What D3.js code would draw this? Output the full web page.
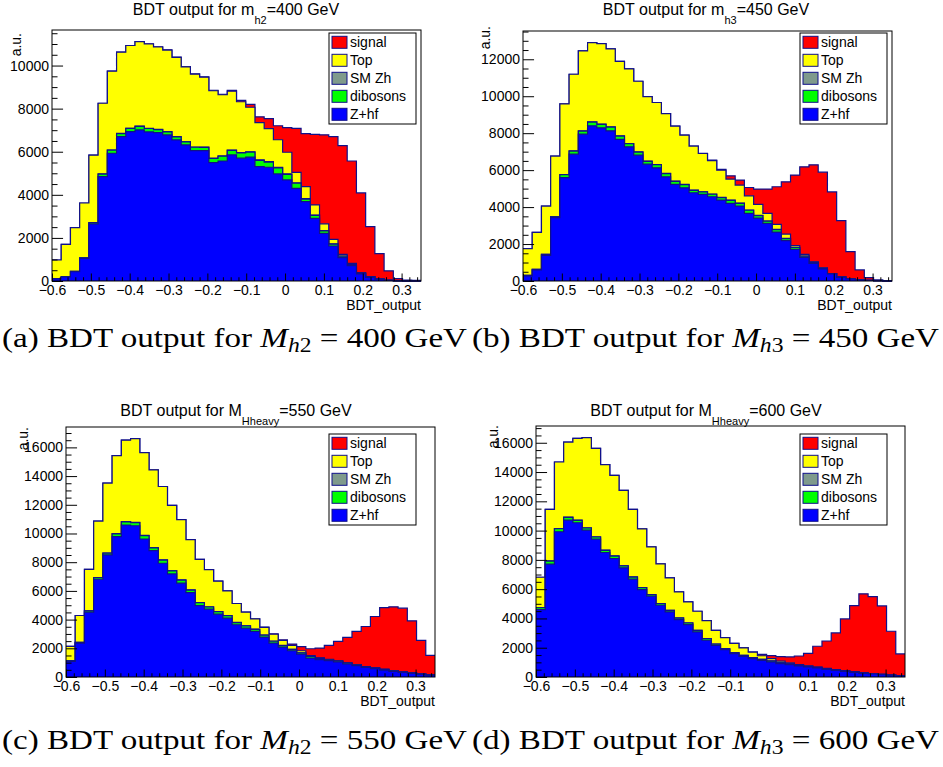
<!DOCTYPE html>
<html><head><meta charset="utf-8">
<script src="https://cdn.jsdelivr.net/npm/d3@7"></script>
<style>
body{margin:0;background:#fff;}
svg{display:block;font-family:"Liberation Sans",Arial,sans-serif;}
</style></head><body>
<svg id="chart" width="943" height="767"></svg>
<script>
// ---------- data ----------
const xRange = [-0.6, 0.35];
const nBins = 40;
const seriesNames = ["signal", "Top", "SM Zh", "dibosons", "Z+hf"];
const seriesColors = ["#ff0000", "#ffff00", "#7f9a8c", "#00ff00", "#0000ff"];
const xMajorTicks = [-0.6, -0.5, -0.4, -0.3, -0.2, -0.1, 0, 0.1, 0.2, 0.3];
const yAxisMax = [11650, 13530, 17420, 17145];

// (a) m_h2 = 400 GeV
const zhfA  = [100,185,430,1050,2650,4845,5930,6700,6935,7010,6920,6890,6780,6550,6315,6050,6050,5495,5570,5850,5700,5745,5310,5280,4970,4690,4300,3685,2910,2215,1625,1085,710,325,170,80,30,10,5,3];
const dibA  = [9,13,18,27,55,117,140,140,145,168,158,138,138,138,143,158,156,190,220,214,242,237,290,240,278,258,238,115,132,110,83,65,57,25,17,8,4,1,1,1];
const smzhA = [1,2,2,3,5,8,10,10,10,12,12,12,12,12,12,12,14,15,15,16,18,18,20,20,22,22,22,20,18,15,12,10,8,5,3,2,1,1,0,0];
const topA  = [865,1500,2030,2540,3130,3280,3660,3770,3840,3920,3910,3820,3790,3680,3470,3380,3240,3130,2840,2730,2360,2065,1730,1530,1285,1005,480,560,470,315,215,80,45,35,10,5,3,2,1,1];
const sigA  = [0,0,0,0,0,0,0,0,0,5,10,10,10,10,10,10,10,20,20,40,60,135,270,470,650,1145,2040,2460,3280,4130,4765,5045,4750,3700,2320,1175,435,100,30,20];

// (b) m_h3 = 450 GeV
const zhfB  = [270,595,1390,3425,5590,6865,7945,8400,8290,8125,7660,7260,6810,6325,6125,5640,5225,5045,4775,4685,4560,4380,4200,4055,3660,3405,3115,2650,2180,1710,1280,955,650,380,200,108,55,35,18,10];
const dibB  = [33,33,47,51,165,168,168,201,187,206,182,168,168,154,168,168,168,168,135,135,135,135,168,149,168,135,121,135,116,102,65,51,32,14,14,7,5,3,2,1];
const smzhB = [2,2,3,4,10,12,12,14,13,14,13,12,12,11,12,12,12,12,10,10,10,10,12,11,12,10,9,10,9,8,5,4,3,1,1,1,0,0,0,0];
const topB  = [1445,2000,2615,3280,3825,4145,4325,4285,4360,4215,4035,4040,3820,3490,3355,3240,2975,2665,2380,2070,1815,1475,1135,975,770,595,415,270,235,90,90,30,30,10,5,2,1,1,0,0];
const sigB  = [0,0,0,0,0,0,0,0,0,0,0,0,0,0,0,0,0,0,0,5,20,40,175,270,450,830,1315,2035,2830,3820,4740,5250,5175,4415,3045,1475,540,144,37,17];

// (c) M_Hheavy = 550 GeV
const zhfC  = [1090,2365,4520,6810,8505,9780,10590,10540,9615,8805,7925,7185,6535,5885,4980,4725,4380,4100,3640,3405,3175,2780,2365,2085,1830,1600,1320,1205,1135,1045,905,790,670,580,485,395,325,255,185,115];
const dibC  = [42,42,84,112,126,191,214,219,238,196,215,215,215,173,196,154,173,173,149,154,149,131,126,107,89,84,107,89,65,61,65,65,47,42,47,42,23,23,23,23];
const smzhC = [3,3,6,8,9,14,16,16,17,14,15,15,15,12,14,11,12,12,11,11,11,9,9,8,6,6,8,6,5,4,5,5,3,3,3,3,2,2,2,2];
const topC  = [995,1875,2895,3935,4870,5445,5680,5840,5770,5420,5120,4540,4195,3500,3010,2595,2110,1715,1320,950,720,535,480,345,275,140,55,30,25,20,15,10,10,5,5,5,3,3,2,2];
const sigC  = [0,0,0,0,0,0,0,0,0,0,0,0,0,0,0,0,0,0,0,0,0,20,30,50,95,280,480,685,970,1350,1765,2305,2790,3585,4300,4445,4440,3630,2340,1365];

// (d) M_Hheavy = 600 GeV
const zhfD  = [4605,7705,9920,10715,10535,10030,9415,8505,8095,7455,6680,5975,5520,4900,4445,3920,3580,3080,2510,2165,1870,1595,1415,1255,1140,1025,910,845,750,685,615,525,455,390,320,250,205,160,115,70];
const dibD  = [126,215,210,187,168,149,149,149,168,131,149,131,107,107,107,107,107,107,107,84,65,65,65,65,65,65,65,47,42,42,42,42,42,42,42,23,23,23,19,19];
const smzhD = [9,15,15,13,12,11,11,11,12,9,11,9,8,8,8,8,8,8,8,6,5,5,5,5,5,5,5,3,3,3,3,3,3,3,3,2,2,2,1,1];
const topD  = [2075,3510,4540,5135,5585,6160,6045,5835,5495,5150,4605,4005,3255,2715,2210,1780,1435,1295,1230,935,750,635,510,365,240,165,110,75,50,30,20,15,10,10,5,5,3,3,2,2];
const sigD  = [0,0,0,0,0,0,0,0,0,0,0,0,0,0,0,0,0,0,0,0,0,0,10,20,100,200,300,400,590,860,1420,1875,2500,3525,4510,5400,5260,4667,2988,1483];

const panelTitles = [
  ["BDT output for m", "h2", "=400 GeV"],
  ["BDT output for m", "h3", "=450 GeV"],
  ["BDT output for M", "Hheavy", "=550 GeV"],
  ["BDT output for M", "Hheavy", "=600 GeV"]
];
const captions = [
  ["(a) BDT output for ", "h", "2", " = 400 GeV"],
  ["(b) BDT output for ", "h", "3", " = 450 GeV"],
  ["(c) BDT output for ", "h", "2", " = 550 GeV"],
  ["(d) BDT output for ", "h", "3", " = 600 GeV"]
];

// ---------- layout ----------
const layout = [
  {frame:{l:52,r:421,t:30,b:281},  legend:{x:329,y:33},  au:[21,33],   titleX:236, titleY:15},
  {frame:{l:523,r:892,t:31,b:281}, legend:{x:800,y:33},  au:[490,26],  titleX:706, titleY:15},
  {frame:{l:66,r:435,t:427,b:677}, legend:{x:329,y:434}, au:[28,427],  titleX:236, titleY:416},
  {frame:{l:536,r:905,t:426,b:677},legend:{x:800,y:434}, au:[498,425], titleX:706, titleY:416}
];
const captionLayout = [
  {x:2, y:347, w:465}, {x:472, y:347, w:467},
  {x:2, y:749, w:465}, {x:472, y:749, w:467}
];

const panelData = [
  {zhf:zhfA, dib:dibA, smzh:smzhA, top:topA, sig:sigA},
  {zhf:zhfB, dib:dibB, smzh:smzhB, top:topB, sig:sigB},
  {zhf:zhfC, dib:dibC, smzh:smzhC, top:topC, sig:sigC},
  {zhf:zhfD, dib:dibD, smzh:smzhD, top:topD, sig:sigD}
];

const svg = d3.select("#chart");
const lineColor = "#10108a";
const edges = d3.range(nBins + 1).map(i => xRange[0] + i * (xRange[1] - xRange[0]) / nBins);
const colorOf = d3.scaleOrdinal().domain(seriesNames).range(seriesColors);

panelData.forEach((pd, pi) => {
  const L = layout[pi], f = L.frame;
  const g = svg.append("g");
  const x = d3.scaleLinear().domain(xRange).range([f.l, f.r]);
  const y = d3.scaleLinear().domain([0, yAxisMax[pi]]).range([f.b, f.t]);

  const rows = d3.range(nBins).map(i => ({
    "Z+hf": pd.zhf[i], "dibosons": pd.dib[i], "SM Zh": pd.smzh[i], "Top": pd.top[i], "signal": pd.sig[i]
  }));
  const stacked = d3.stack().keys(["Z+hf", "dibosons", "SM Zh", "Top", "signal"])(rows);

  const area = d3.area().curve(d3.curveStepAfter).x(d => x(d.e)).y0(y(0)).y1(d => y(d.v));
  const line = d3.line().curve(d3.curveStepAfter).x(d => x(d.e)).y(d => y(d.v));

  stacked.slice().reverse().forEach(layer => {
    const pts = layer.map((d, i) => ({e: edges[i], v: d[1]}));
    pts.push({e: edges[nBins], v: layer[nBins - 1][1]});
    g.append("path").attr("d", area(pts)).attr("fill", colorOf(layer.key)).attr("stroke", "none");
    g.append("path").attr("d", line(pts)).attr("fill", "none")
      .attr("stroke", lineColor).attr("stroke-width", 1.2);
  });

  // frame
  g.append("rect").attr("x", f.l).attr("y", f.t).attr("width", f.r - f.l).attr("height", f.b - f.t)
    .attr("fill", "none").attr("stroke", "#000").attr("stroke-width", 1);

  // y axis
  const yMajor = d3.range(0, yAxisMax[pi], 2000);
  const yMinor = d3.range(0, yAxisMax[pi], 500).filter(v => v % 2000 !== 0);
  const yLen = 0.03 * (f.r - f.l);
  const ya = g.append("g").attr("transform", `translate(${f.l},0)`)
    .call(d3.axisLeft(y).tickValues(yMajor).tickSize(-yLen).tickPadding(3).tickFormat(d3.format("d")));
  ya.select(".domain").remove();
  ya.selectAll("text").attr("font-size", 14).attr("font-family", "Liberation Sans, Arial, sans-serif").attr("fill", "#000");
  const ym = g.append("g").attr("transform", `translate(${f.l},0)`)
    .call(d3.axisLeft(y).tickValues(yMinor).tickSize(-yLen / 2).tickFormat(""));
  ym.select(".domain").remove();

  // x axis
  const xLen = 0.03 * (f.b - f.t);
  const xa = g.append("g").attr("transform", `translate(0,${f.b})`)
    .call(d3.axisBottom(x).tickValues(xMajorTicks).tickSize(-xLen).tickPadding(4.5)
      .tickFormat(d => d === 0 ? "0" : d3.format(".1f")(d)));
  xa.select(".domain").remove();
  xa.selectAll("text").attr("font-size", 14).attr("font-family", "Liberation Sans, Arial, sans-serif").attr("fill", "#000");
  const xMinor = d3.range(-30, 18).map(k => k / 50).filter(v => Math.abs(Math.round(v * 10) - v * 10) > 1e-6);
  const xm = g.append("g").attr("transform", `translate(0,${f.b})`)
    .call(d3.axisBottom(x).tickValues(xMinor).tickSize(-xLen / 2).tickFormat(""));
  xm.select(".domain").remove();

  // axis titles
  g.append("text").attr("x", f.r).attr("y", f.b + 29).attr("text-anchor", "end")
    .attr("font-size", 14).text("BDT_output");
  g.append("text").attr("transform", `translate(${L.au[0]},${L.au[1]}) rotate(-90)`)
    .attr("text-anchor", "end").attr("font-size", 14).text("a.u.");

  // title
  const t = panelTitles[pi];
  const tt = g.append("text").attr("x", L.titleX).attr("y", L.titleY).attr("text-anchor", "middle").attr("font-size", 16);
  tt.append("tspan").text(t[0]);
  tt.append("tspan").attr("font-size", 11).attr("dy", 9).text(t[1]);
  tt.append("tspan").attr("font-size", 16).attr("dy", -9).text(t[2]);

  // legend
  const lg = L.legend;
  g.append("rect").attr("x", lg.x).attr("y", lg.y).attr("width", 87).attr("height", 91)
    .attr("fill", "#fff").attr("stroke", "#000").attr("stroke-width", 1);
  seriesNames.forEach((s, k) => {
    const cy = lg.y + 9.3 + k * 18;
    g.append("rect").attr("x", lg.x + 3).attr("y", cy - 6).attr("width", 15).attr("height", 12)
      .attr("fill", colorOf(s)).attr("stroke", lineColor).attr("stroke-width", 1);
    g.append("text").attr("x", lg.x + 21).attr("y", cy + 5).attr("font-size", 14).text(s);
  });
});

// captions
captions.forEach((c, ci) => {
  const cl = captionLayout[ci];
  const t = svg.append("text").attr("x", cl.x).attr("y", cl.y)
    .attr("font-family", "Liberation Serif, Times New Roman, serif").attr("font-size", 28)
    .attr("textLength", cl.w).attr("lengthAdjust", "spacingAndGlyphs");
  t.append("tspan").text(c[0]);
  t.append("tspan").attr("font-style", "italic").text("M");
  t.append("tspan").attr("font-style", "italic").attr("font-size", 20).attr("dy", 5).text(c[1]);
  t.append("tspan").attr("font-size", 20).text(c[2]);
  t.append("tspan").attr("dy", -5).text(c[3]);
});
</script>
</body></html>
